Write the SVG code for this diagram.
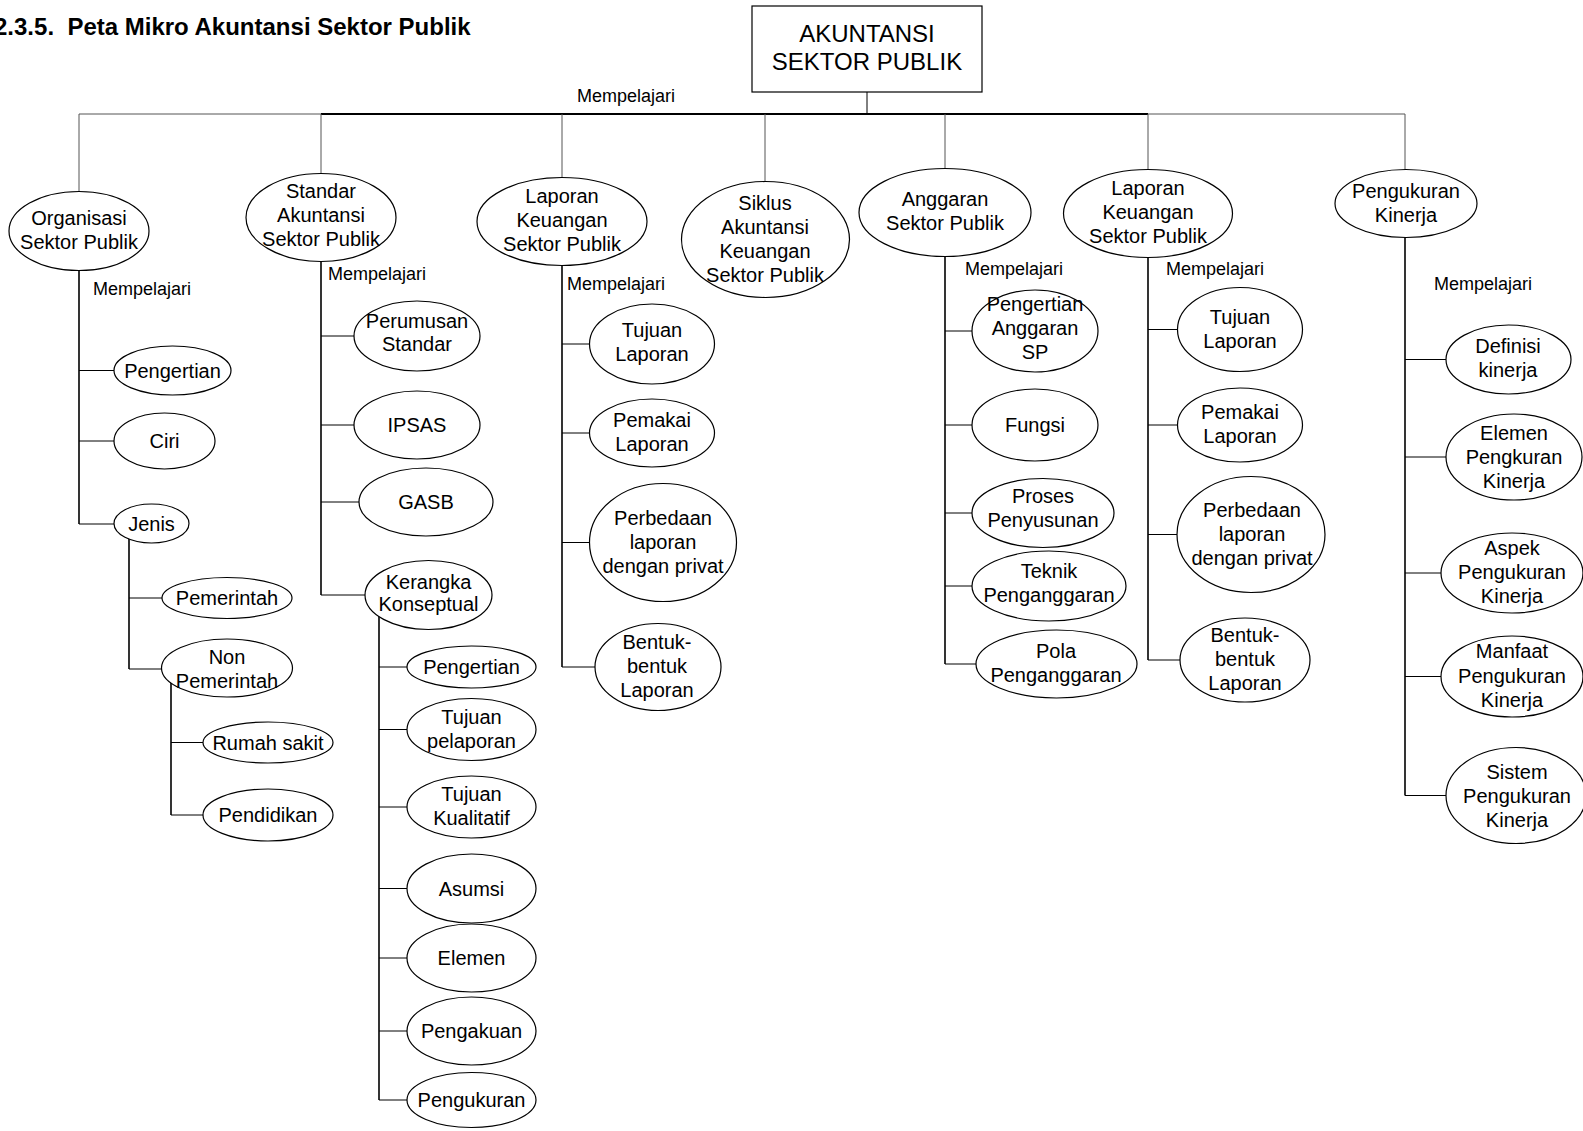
<svg xmlns="http://www.w3.org/2000/svg" width="1583" height="1131" viewBox="0 0 1583 1131">
<style>
.bg{fill:#fff}
.n{fill:#fff;stroke:#000;stroke-width:1.2}
.t{font-family:"Liberation Sans",Arial,sans-serif;font-size:20px;text-anchor:middle;fill:#000}
.r{font-family:"Liberation Sans",Arial,sans-serif;font-size:24px;text-anchor:middle;fill:#000}
.m{font-family:"Liberation Sans",Arial,sans-serif;font-size:18px;fill:#000}
.h{font-family:"Liberation Sans",Arial,sans-serif;font-size:24px;font-weight:bold;fill:#000}
.c{stroke:#000;stroke-width:1;fill:none}
.v{stroke:#000;stroke-width:1.6;fill:none}
.g{stroke:#555;stroke-width:1;fill:none}
</style>
<rect class="bg" x="0" y="0" width="1583" height="1131"/>
<text class="h" x="-6" y="35" xml:space="preserve">2.3.5.  Peta Mikro Akuntansi Sektor Publik</text>

<g id="connectors">
  <path class="c" d="M867 92V114"/>
  <path class="g" d="M79 114H1405"/>
  <path class="c" d="M321 114H1148" style="stroke-width:2"/>
  <path class="g" d="M79 114V192M321 114V174M562 114V178M765 114V182M945 114V169M1148 114V170M1405 114V170"/>
  <!-- col1 -->
  <path class="v" d="M79 231V524"/>
  <path class="c" d="M79 370.5H114M79 441H114M79 524H114"/>
  <path class="v" d="M129 524V669"/>
  <path class="c" d="M129 598H162M129 669H162"/>
  <path class="v" d="M171 668V815"/>
  <path class="c" d="M171 742.5H203M171 815H203"/>
  <!-- col2 -->
  <path class="v" d="M321 217V595"/>
  <path class="c" d="M321 336H354M321 425H354M321 502H359M321 595H365"/>
  <path class="v" d="M379 595V1100"/>
  <path class="c" d="M379 667H407M379 729.5H407M379 807H407M379 888.5H407M379 958H407M379 1031H407M379 1100H407"/>
  <!-- col3 -->
  <path class="v" d="M562 221V667"/>
  <path class="c" d="M562 344H590M562 433H590M562 542.5H590M562 667H595"/>
  <!-- col5 -->
  <path class="v" d="M945 212V664"/>
  <path class="c" d="M945 331H972M945 425H972M945 513H972M945 586H972M945 664H976"/>
  <!-- col6 -->
  <path class="v" d="M1148 213V660"/>
  <path class="c" d="M1148 329.5H1178M1148 425H1178M1148 534.5H1177M1148 660H1180"/>
  <!-- col7 -->
  <path class="v" d="M1405 203V795.5"/>
  <path class="c" d="M1405 359.5H1446M1405 457H1446M1405 573H1441M1405 676.5H1441M1405 795.5H1446"/>
</g>

<text class="m" x="577" y="102">Mempelajari</text>
<text class="m" x="93" y="295">Mempelajari</text>
<text class="m" x="328" y="280">Mempelajari</text>
<text class="m" x="567" y="290">Mempelajari</text>
<text class="m" x="965" y="275">Mempelajari</text>
<text class="m" x="1166" y="275">Mempelajari</text>
<text class="m" x="1434" y="290">Mempelajari</text>

<g id="root"><rect class="n" x="752" y="6" width="230" height="86"/><text class="r" x="867" y="42">AKUNTANSI</text><text class="r" x="867" y="70">SEKTOR PUBLIK</text></g>

<g id="organisasi"><ellipse class="n" cx="79" cy="231" rx="70" ry="39.5"/><text class="t" x="79" y="225">Organisasi</text><text class="t" x="79" y="249">Sektor Publik</text></g>
<g id="org-pengertian"><ellipse class="n" cx="172.5" cy="370.5" rx="58.5" ry="24.5"/><text class="t" x="172.5" y="377.5">Pengertian</text></g>
<g id="org-ciri"><ellipse class="n" cx="164.5" cy="441" rx="50.5" ry="28"/><text class="t" x="164.5" y="448">Ciri</text></g>
<g id="org-jenis"><ellipse class="n" cx="151.5" cy="523.5" rx="37.5" ry="19.5"/><text class="t" x="151.5" y="530.5">Jenis</text></g>
<g id="jenis-pemerintah"><ellipse class="n" cx="227" cy="598" rx="65" ry="20.5"/><text class="t" x="227" y="605">Pemerintah</text></g>
<g id="jenis-non"><ellipse class="n" cx="227" cy="668" rx="65.5" ry="29"/><text class="t" x="227" y="664">Non</text><text class="t" x="227" y="688">Pemerintah</text></g>
<g id="non-rs"><ellipse class="n" cx="268" cy="742.5" rx="65" ry="20.5"/><text class="t" x="268" y="749.5">Rumah sakit</text></g>
<g id="non-pendidikan"><ellipse class="n" cx="268" cy="815" rx="65" ry="26"/><text class="t" x="268" y="822">Pendidikan</text></g>

<g id="standar"><ellipse class="n" cx="321" cy="217.5" rx="75" ry="44"/><text class="t" x="321" y="198">Standar</text><text class="t" x="321" y="222">Akuntansi</text><text class="t" x="321" y="246">Sektor Publik</text></g>
<g id="std-perumusan"><ellipse class="n" cx="417" cy="336" rx="63" ry="35"/><text class="t" x="417" y="328">Perumusan</text><text class="t" x="417" y="351">Standar</text></g>
<g id="std-ipsas"><ellipse class="n" cx="417" cy="425" rx="63" ry="34"/><text class="t" x="417" y="432">IPSAS</text></g>
<g id="std-gasb"><ellipse class="n" cx="426" cy="502" rx="67" ry="34"/><text class="t" x="426" y="509">GASB</text></g>
<g id="std-kerangka"><ellipse class="n" cx="428.5" cy="595" rx="63.5" ry="34.5"/><text class="t" x="428.5" y="589">Kerangka</text><text class="t" x="428.5" y="611">Konseptual</text></g>
<g id="kk-pengertian"><ellipse class="n" cx="471.5" cy="667" rx="64.5" ry="21"/><text class="t" x="471.5" y="674">Pengertian</text></g>
<g id="kk-tujuan-pelaporan"><ellipse class="n" cx="471.5" cy="729.5" rx="64.5" ry="31"/><text class="t" x="471.5" y="724">Tujuan</text><text class="t" x="471.5" y="748">pelaporan</text></g>
<g id="kk-tujuan-kualitatif"><ellipse class="n" cx="471.5" cy="807" rx="64.5" ry="31"/><text class="t" x="471.5" y="800.5">Tujuan</text><text class="t" x="471.5" y="825">Kualitatif</text></g>
<g id="kk-asumsi"><ellipse class="n" cx="471.5" cy="888.5" rx="64.5" ry="34.5"/><text class="t" x="471.5" y="895.5">Asumsi</text></g>
<g id="kk-elemen"><ellipse class="n" cx="471.5" cy="958" rx="64.5" ry="34"/><text class="t" x="471.5" y="965">Elemen</text></g>
<g id="kk-pengakuan"><ellipse class="n" cx="471.5" cy="1031" rx="64.5" ry="34"/><text class="t" x="471.5" y="1038">Pengakuan</text></g>
<g id="kk-pengukuran"><ellipse class="n" cx="471.5" cy="1100" rx="64.5" ry="27.5"/><text class="t" x="471.5" y="1107">Pengukuran</text></g>

<g id="laporan1"><ellipse class="n" cx="562" cy="221.5" rx="85" ry="44"/><text class="t" x="562" y="203">Laporan</text><text class="t" x="562" y="227">Keuangan</text><text class="t" x="562" y="251">Sektor Publik</text></g>
<g id="lap1-tujuan"><ellipse class="n" cx="652" cy="344" rx="62.5" ry="40"/><text class="t" x="652" y="337">Tujuan</text><text class="t" x="652" y="361">Laporan</text></g>
<g id="lap1-pemakai"><ellipse class="n" cx="652" cy="433" rx="62.5" ry="34"/><text class="t" x="652" y="427">Pemakai</text><text class="t" x="652" y="451">Laporan</text></g>
<g id="lap1-perbedaan"><ellipse class="n" cx="663" cy="542.5" rx="73.5" ry="59"/><text class="t" x="663" y="525">Perbedaan</text><text class="t" x="663" y="549">laporan</text><text class="t" x="663" y="573">dengan privat</text></g>
<g id="lap1-bentuk"><ellipse class="n" cx="658" cy="667" rx="63" ry="43.5"/><text class="t" x="657" y="649">Bentuk-</text><text class="t" x="657" y="673">bentuk</text><text class="t" x="657" y="697">Laporan</text></g>

<g id="siklus"><ellipse class="n" cx="765.5" cy="239.5" rx="84" ry="58"/><text class="t" x="765" y="210">Siklus</text><text class="t" x="765" y="234">Akuntansi</text><text class="t" x="765" y="258">Keuangan</text><text class="t" x="765" y="282">Sektor Publik</text></g>

<g id="anggaran"><ellipse class="n" cx="945" cy="212.5" rx="86" ry="44"/><text class="t" x="945" y="206">Anggaran</text><text class="t" x="945" y="230">Sektor Publik</text></g>
<g id="ang-pengertian"><ellipse class="n" cx="1035" cy="331" rx="63" ry="41"/><text class="t" x="1035" y="311">Pengertian</text><text class="t" x="1035" y="335">Anggaran</text><text class="t" x="1035" y="359">SP</text></g>
<g id="ang-fungsi"><ellipse class="n" cx="1035" cy="425" rx="63" ry="36"/><text class="t" x="1035" y="432">Fungsi</text></g>
<g id="ang-proses"><ellipse class="n" cx="1043" cy="513" rx="71" ry="34.5"/><text class="t" x="1043" y="503">Proses</text><text class="t" x="1043" y="527">Penyusunan</text></g>
<g id="ang-teknik"><ellipse class="n" cx="1049" cy="586" rx="77" ry="35"/><text class="t" x="1049" y="578">Teknik</text><text class="t" x="1049" y="602">Penganggaran</text></g>
<g id="ang-pola"><ellipse class="n" cx="1056.5" cy="664" rx="80.5" ry="34"/><text class="t" x="1056" y="658">Pola</text><text class="t" x="1056" y="682">Penganggaran</text></g>

<g id="laporan2"><ellipse class="n" cx="1148" cy="213.5" rx="84.5" ry="44"/><text class="t" x="1148" y="195">Laporan</text><text class="t" x="1148" y="219">Keuangan</text><text class="t" x="1148" y="243">Sektor Publik</text></g>
<g id="lap2-tujuan"><ellipse class="n" cx="1240" cy="329.5" rx="62.5" ry="42"/><text class="t" x="1240" y="324">Tujuan</text><text class="t" x="1240" y="348">Laporan</text></g>
<g id="lap2-pemakai"><ellipse class="n" cx="1240" cy="425" rx="62.5" ry="37"/><text class="t" x="1240" y="419">Pemakai</text><text class="t" x="1240" y="443">Laporan</text></g>
<g id="lap2-perbedaan"><ellipse class="n" cx="1251" cy="534.5" rx="74" ry="58"/><text class="t" x="1252" y="517">Perbedaan</text><text class="t" x="1252" y="541">laporan</text><text class="t" x="1252" y="565">dengan privat</text></g>
<g id="lap2-bentuk"><ellipse class="n" cx="1245" cy="660" rx="65" ry="42"/><text class="t" x="1245" y="642">Bentuk-</text><text class="t" x="1245" y="666">bentuk</text><text class="t" x="1245" y="690">Laporan</text></g>

<g id="pengukuran-kinerja"><ellipse class="n" cx="1406" cy="203.5" rx="71" ry="34"/><text class="t" x="1406" y="198">Pengukuran</text><text class="t" x="1406" y="222">Kinerja</text></g>
<g id="pk-definisi"><ellipse class="n" cx="1508.5" cy="359.5" rx="62.5" ry="34.5"/><text class="t" x="1508" y="353">Definisi</text><text class="t" x="1508" y="377">kinerja</text></g>
<g id="pk-elemen"><ellipse class="n" cx="1514" cy="457" rx="68" ry="43"/><text class="t" x="1514" y="440">Elemen</text><text class="t" x="1514" y="464">Pengkuran</text><text class="t" x="1514" y="488">Kinerja</text></g>
<g id="pk-aspek"><ellipse class="n" cx="1512" cy="573" rx="71" ry="40"/><text class="t" x="1512" y="555">Aspek</text><text class="t" x="1512" y="579">Pengukuran</text><text class="t" x="1512" y="603">Kinerja</text></g>
<g id="pk-manfaat"><ellipse class="n" cx="1512" cy="676.5" rx="71" ry="40.5"/><text class="t" x="1512" y="658">Manfaat</text><text class="t" x="1512" y="683">Pengukuran</text><text class="t" x="1512" y="707">Kinerja</text></g>
<g id="pk-sistem"><ellipse class="n" cx="1516" cy="795.5" rx="70" ry="48"/><text class="t" x="1517" y="779">Sistem</text><text class="t" x="1517" y="803">Pengukuran</text><text class="t" x="1517" y="827">Kinerja</text></g>
</svg>
